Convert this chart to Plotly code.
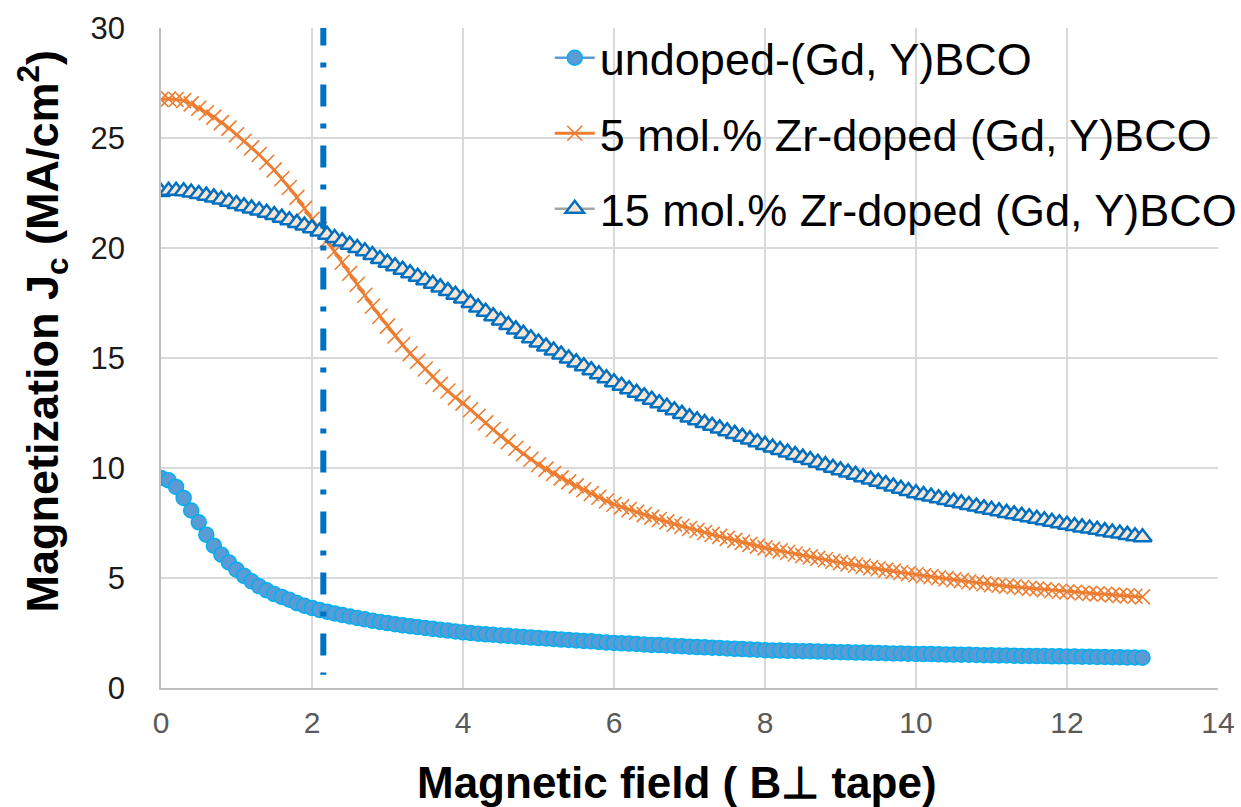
import plotly.graph_objects as go

# Magnetic field grid (T), measured every 0.1 T from 0 to 13
field = [round(i * 0.1, 1) for i in range(131)]

undoped = [
    9.55, 9.44, 9.14, 8.64, 8.07, 7.53, 6.97, 6.47, 6.06, 5.71,
    5.38, 5.1, 4.85, 4.62, 4.44, 4.27, 4.14, 4.01, 3.86, 3.74,
    3.64, 3.55, 3.47, 3.39, 3.32, 3.25, 3.18, 3.12, 3.06, 3.0,
    2.95, 2.9, 2.85, 2.81, 2.77, 2.73, 2.69, 2.65, 2.61, 2.57,
    2.53, 2.5, 2.47, 2.44, 2.42, 2.39, 2.37, 2.34, 2.32, 2.29,
    2.27, 2.25, 2.23, 2.2, 2.18, 2.16, 2.14, 2.12, 2.09, 2.07,
    2.05, 2.03, 2.02, 2.0, 1.98, 1.96, 1.95, 1.93, 1.91, 1.9,
    1.88, 1.86, 1.85, 1.83, 1.82, 1.8, 1.78, 1.77, 1.75, 1.74,
    1.72, 1.71, 1.7, 1.69, 1.68, 1.675, 1.67, 1.66, 1.65, 1.64,
    1.63, 1.62, 1.61, 1.61, 1.6, 1.59, 1.58, 1.57, 1.57, 1.56,
    1.55, 1.54, 1.54, 1.53, 1.52, 1.52, 1.51, 1.51, 1.5, 1.49,
    1.49, 1.48, 1.48, 1.47, 1.46, 1.46, 1.45, 1.45, 1.44, 1.44,
    1.43, 1.43, 1.42, 1.42, 1.41, 1.41, 1.4, 1.4, 1.39, 1.39,
    1.38,
]

zr5 = [
    26.75, 26.78, 26.75, 26.7, 26.55, 26.35, 26.15, 25.95, 25.7, 25.45,
    25.15, 24.85, 24.55, 24.25, 23.9, 23.55, 23.15, 22.75, 22.3, 21.8,
    21.3, 20.85, 20.35, 19.85, 19.35, 18.85, 18.35, 17.85, 17.35, 16.9,
    16.45, 16.0, 15.6, 15.2, 14.85, 14.5, 14.15, 13.8, 13.5, 13.2,
    12.95, 12.65, 12.35, 12.05, 11.75, 11.45, 11.2, 10.9, 10.65, 10.4,
    10.15, 9.95, 9.75, 9.55, 9.37, 9.19, 9.01, 8.84, 8.67, 8.5,
    8.35, 8.23, 8.11, 7.99, 7.88, 7.77, 7.66, 7.55, 7.45, 7.35,
    7.25, 7.16, 7.07, 6.98, 6.89, 6.8, 6.71, 6.62, 6.53, 6.45,
    6.37, 6.3, 6.23, 6.16, 6.09, 6.02, 5.96, 5.89, 5.83, 5.76,
    5.7, 5.64, 5.58, 5.53, 5.47, 5.42, 5.36, 5.31, 5.25, 5.2,
    5.15, 5.1, 5.06, 5.01, 4.97, 4.92, 4.88, 4.83, 4.79, 4.74,
    4.7, 4.67, 4.63, 4.6, 4.57, 4.53, 4.5, 4.47, 4.43, 4.4,
    4.37, 4.35, 4.32, 4.3, 4.28, 4.26, 4.23, 4.21, 4.19, 4.17,
    4.14,
]

zr15 = [
    22.55, 22.6, 22.6, 22.58, 22.52, 22.45, 22.38, 22.3, 22.2, 22.1,
    22.0, 21.9, 21.8, 21.7, 21.6, 21.5, 21.38, 21.26, 21.14, 21.02,
    20.9, 20.75, 20.6, 20.45, 20.3, 20.15, 20.0, 19.85, 19.68, 19.5,
    19.33, 19.17, 19.01, 18.85, 18.69, 18.53, 18.37, 18.21, 18.04, 17.87,
    17.7, 17.5, 17.3, 17.1, 16.9, 16.7, 16.5, 16.3, 16.1, 15.9,
    15.7, 15.52, 15.34, 15.16, 14.98, 14.8, 14.62, 14.44, 14.26, 14.08,
    13.9, 13.74, 13.58, 13.42, 13.26, 13.1, 12.94, 12.78, 12.62, 12.46,
    12.3, 12.17, 12.04, 11.92, 11.8, 11.67, 11.55, 11.42, 11.3, 11.17,
    11.05, 10.93, 10.82, 10.7, 10.59, 10.47, 10.36, 10.24, 10.13, 10.01,
    9.9, 9.79, 9.69, 9.58, 9.48, 9.37, 9.27, 9.16, 9.06, 8.95,
    8.85, 8.77, 8.7, 8.62, 8.55, 8.47, 8.4, 8.32, 8.25, 8.17,
    8.1, 8.03, 7.96, 7.9, 7.83, 7.76, 7.69, 7.62, 7.56, 7.49,
    7.42, 7.36, 7.3, 7.25, 7.19, 7.13, 7.07, 7.02, 6.96, 6.9,
    6.85,
]

names = ["undoped-(Gd, Y)BCO", "5 mol.% Zr-doped (Gd, Y)BCO", "15 mol.% Zr-doped (Gd, Y)BCO"]
marker_line_x = 2.15
marker_line_y = [0.6, 30.2]
x_ticks = [0, 2, 4, 6, 8, 10, 12, 14]
y_ticks = [0, 5, 10, 15, 20, 25, 30]

FONT = "Liberation Sans, Arial, sans-serif"

fig = go.Figure()
fig.add_trace(go.Scatter(
    x=field, y=undoped, name=names[0], mode="lines+markers", legendgroup="a",
    line=dict(color="#5B9BD5", width=2.5),
    marker=dict(symbol="circle", size=15, color="#5B9BD5", line=dict(color="#00B0F0", width=1.5)),
))
fig.add_trace(go.Scatter(
    x=field, y=zr5, name=names[1], mode="lines+markers", legendgroup="b",
    line=dict(color="#ED7D31", width=3),
    marker=dict(symbol="x-thin", size=15, color="#ED7D31", line=dict(color="#ED7D31", width=1.6)),
))
fig.add_trace(go.Scatter(
    x=field, y=zr15, name=names[2], mode="lines+markers", legendgroup="c",
    line=dict(color="#A5A5A5", width=2.5),
    marker=dict(symbol="triangle-up", size=16, color="#FBE5D6", line=dict(color="#0070C0", width=2.5)),
))

fig.add_shape(type="line", xref="x", yref="y",
              x0=marker_line_x, x1=marker_line_x, y0=marker_line_y[1], y1=marker_line_y[0],
              line=dict(color="#0070C0", width=6, dash="22px,17px,5px,17px"))

fig.update_layout(
    width=1241, height=807,
    margin=dict(l=161, r=23, t=28, b=119, autoexpand=False),
    paper_bgcolor="white", plot_bgcolor="white",
    font=dict(family=FONT, color="#000000"),
    showlegend=True,
    legend=dict(
        xref="container", yref="container",
        x=0.443, y=0.9727, xanchor="left", yanchor="top",
        bgcolor="rgba(0,0,0,0)", font=dict(size=45, family=FONT, color="#000000"),
        tracegroupgap=14, itemwidth=40,
    ),
    xaxis=dict(
        range=[0, 14], tickvals=x_ticks, showgrid=True, gridcolor="#D9D9D9", gridwidth=1.5,
        zeroline=False, showline=True, linecolor="#BFBFBF", linewidth=1.5,
        tickfont=dict(size=30, color="#595959", family=FONT), ticks="", ticklabelstandoff=7,
    ),
    yaxis=dict(
        range=[0, 30], tickvals=y_ticks, showgrid=True, gridcolor="#D9D9D9", gridwidth=1.5,
        zeroline=False, showline=True, linecolor="#BFBFBF", linewidth=1.5,
        tickfont=dict(size=31, color="#1A1A1A", family=FONT), ticks="", ticklabelstandoff=28,
    ),
    annotations=[
        dict(text="<b>Magnetic field ( B⊥ tape)</b>", xref="paper", yref="paper",
             x=0.488, y=0, yshift=-94, xanchor="center", yanchor="middle", showarrow=False,
             font=dict(size=44, family=FONT, color="#000000")),
        dict(text="<b>Magnetization J<sub>c</sub> (MA/cm<sup>2</sup>)</b>", xref="paper", yref="paper",
             x=0, xshift=-119, y=0.54, xanchor="center", yanchor="middle", showarrow=False,
             textangle=-90, font=dict(size=45, family=FONT, color="#000000")),
    ],
)

fig.write_html("out.html")
